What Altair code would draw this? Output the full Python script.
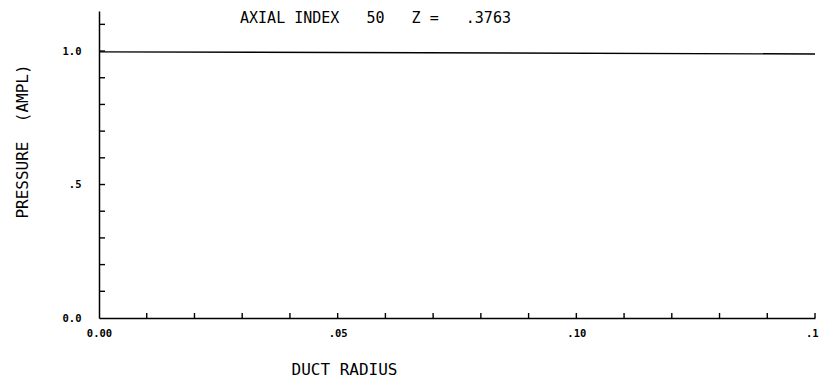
import altair as alt
import pandas as pd

# Pressure amplitude across the duct radius at one axial station
radius = [0.0, 0.15]
pressure = [0.997, 0.989]

# Minor tick positions along each axis
y_ticks = [0.1, 0.2, 0.3, 0.4, 0.5, 0.6, 0.7, 0.8, 0.9, 1.0, 1.1]
x_ticks = [0.01, 0.02, 0.03, 0.04, 0.05, 0.06, 0.07, 0.08, 0.09, 0.10,
           0.11, 0.12, 0.13, 0.14, 0.15]

title_text = "AXIAL INDEX\u00a0\u00a0\u00a050\u00a0\u00a0\u00a0Z =\u00a0\u00a0\u00a0.3763"

W, H = 716, 307
MONO = "DejaVu Sans Mono"

line_df = pd.DataFrame({"radius": radius, "pressure": pressure})
yt_df = pd.DataFrame({"p": y_ticks})
xt_df = pd.DataFrame({"r": x_ticks})

x_scale = alt.Scale(domain=[0, 0.15], nice=False, zero=False)
y_scale = alt.Scale(domain=[0, 1.15], nice=False)

x_axis = alt.Axis(
    values=[0, 0.05, 0.10, 0.15],
    labelExpr="datum.value == 0 ? '0.00' : datum.value < 0.07 ? '.05' : datum.value < 0.12 ? '.10' : '.15'",
    ticks=False, grid=False, domainColor="black", domainWidth=1.5,
    labelFont=MONO, labelFontWeight="bold", labelFontSize=10.5, labelColor="black",
    labelBaseline="top", labelPadding=10, labelFlush=False, labelOverlap=False,
    title="DUCT RADIUS", titleFont=MONO, titleFontWeight="normal", titleFontSize=16,
    titleColor="black", titleX=245, titleY=51, titleBaseline="middle", titleAlign="center",
)
y_axis = alt.Axis(
    values=[0, 0.5, 1.0],
    labelExpr="datum.value == 0 ? '0.0' : datum.value < 0.7 ? '.5' : '1.0'",
    ticks=False, grid=False, domainColor="black", domainWidth=1.5,
    labelFont=MONO, labelFontWeight="bold", labelFontSize=10.5, labelColor="black",
    labelPadding=18, labelOverlap=False,
    title="PRESSURE\u00a0\u00a0(AMPL)", titleFont=MONO, titleFontWeight="normal",
    titleFontSize=16, titleColor="black", titleX=-77, titleY=130,
    titleBaseline="middle", titleAlign="center", titleAngle=-90,
)

curve = alt.Chart(line_df).mark_line(color="black", strokeWidth=1.4).encode(
    x=alt.X("radius:Q", scale=x_scale, axis=x_axis),
    y=alt.Y("pressure:Q", scale=y_scale, axis=y_axis),
)

y_tick_marks = alt.Chart(yt_df).mark_rule(color="black", strokeWidth=1.4).encode(
    y=alt.Y("p:Q", scale=y_scale),
    x=alt.value(0),
    x2=alt.value(6),
)

x_tick_marks = alt.Chart(xt_df).mark_rule(color="black", strokeWidth=1.4).encode(
    x=alt.X("r:Q", scale=x_scale),
    y=alt.value(H),
    y2=alt.value(H - 5),
)

header = alt.Chart(pd.DataFrame({"t": [title_text]})).mark_text(
    font=MONO, fontSize=15, color="black", align="center", baseline="middle"
).encode(
    x=alt.value(276.5),
    y=alt.value(7),
    text="t:N",
)

chart = alt.layer(curve, y_tick_marks, x_tick_marks, header).properties(
    width=W, height=H,
    autosize=alt.AutoSizeParams(type="none"),
    padding={"left": 99, "top": 11, "right": 4, "bottom": 61},
    background="white",
).configure_view(stroke=None)

chart.save("out.html", embed_options={"renderer": "svg", "actions": False})
